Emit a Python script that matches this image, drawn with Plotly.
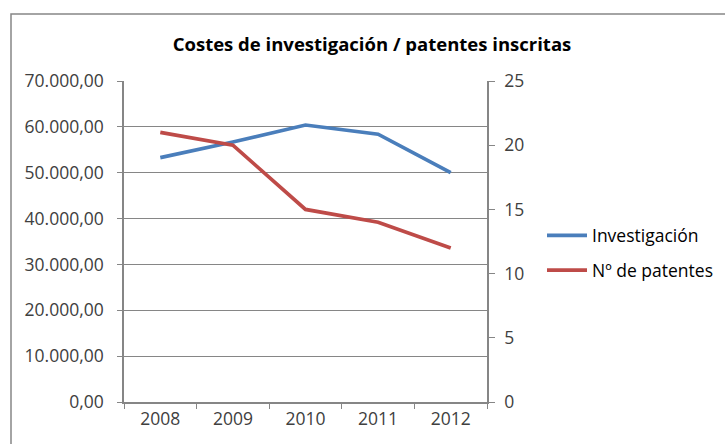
import plotly.graph_objects as go

years = ["2008", "2009", "2010", "2011", "2012"]
investigacion = [53300, 56700, 60400, 58400, 50000]
patentes = [21, 20, 15, 14, 12]
left_ticks = [0, 10000, 20000, 30000, 40000, 50000, 60000, 70000]
right_ticks = [0, 5, 10, 15, 20, 25]

FONT = "Open Sans"
GRAY = "#868686"
FS = 17.5

fig = go.Figure()
fig.add_trace(go.Scatter(x=years, y=investigacion, name="Investigación", mode="lines",
                         line=dict(color="#4A7EBB", width=3.7), legendgroup="a"))
fig.add_trace(go.Scatter(x=years, y=patentes, name="Nº de patentes", mode="lines",
                         line=dict(color="#BE4B48", width=3.7), yaxis="y2", legendgroup="b"))

L, R, T, B = 124, 238, 81, 42
W, H = 725, 444
pw, ph = W - L - R, H - T - B

def px_x(p):
    return (p - L) / pw

def px_y(p):
    return (H - B - p) / ph

fig.update_layout(
    width=W, height=H,
    margin=dict(l=L, r=R, t=T, b=B, autoexpand=False),
    paper_bgcolor="white", plot_bgcolor="white",
    separators=",.",
    font=dict(family=FONT, size=FS, color="#404040"),
    title=dict(text="<b>Costes de investigación / patentes inscritas</b>",
               x=372 / W, xanchor="center", y=1 - 45 / H, yanchor="middle",
               yref="container", xref="container",
               font=dict(family=FONT, size=18.5, color="#000000")),
    xaxis=dict(type="category", range=[-0.5, 4.5], showgrid=False,
               showline=True, linecolor=GRAY, linewidth=1.5,
               ticks="outside", ticklen=5, tickcolor=GRAY, tickson="boundaries",
               tickfont=dict(size=FS, color="#404040")),
    yaxis=dict(range=[0, 70000], tickvals=left_ticks, tickformat=",.2f",
               showgrid=True, gridcolor=GRAY, gridwidth=1,
               showline=True, linecolor=GRAY, linewidth=1.5,
               ticks="outside", ticklen=5, tickcolor=GRAY, zeroline=False,
               ticklabelstandoff=10, tickfont=dict(size=FS, color="#404040")),
    yaxis2=dict(range=[0, 25], tickvals=right_ticks, overlaying="y", side="right",
                showgrid=False, showline=True, linecolor=GRAY, linewidth=1.5,
                ticks="outside", ticklen=6, tickcolor=GRAY, zeroline=False,
                ticklabelstandoff=6, tickfont=dict(size=FS, color="#404040")),
    showlegend=True,
    legend=dict(x=px_x(542), xanchor="left", y=px_y(253), yanchor="middle",
                traceorder="grouped", tracegroupgap=9, itemwidth=40,
                font=dict(family=FONT, size=FS, color="#000000"),
                bgcolor="rgba(0,0,0,0)"),
    shapes=[dict(type="rect", xref="paper", yref="paper",
                 x0=px_x(11), x1=px_x(740), y0=px_y(460), y1=px_y(14),
                 line=dict(color=GRAY, width=1.5), fillcolor="rgba(0,0,0,0)", layer="below")],
)

fig.write_html("out.html", config={"displayModeBar": False},
               post_script="document.body.style.margin='0';")
